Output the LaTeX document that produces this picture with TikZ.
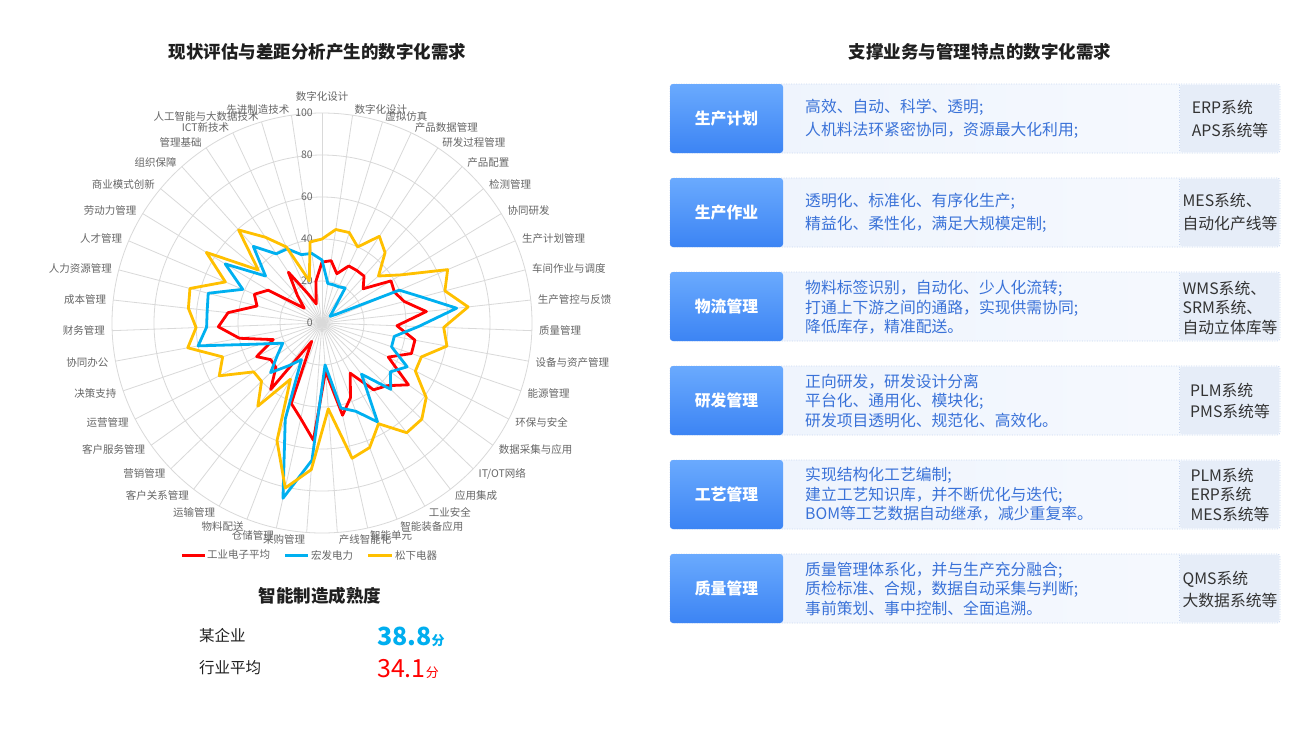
\documentclass[tikz,border=0pt]{standalone}
\usepackage{fontspec}
\setmainfont{Noto Sans CJK SC}
\definecolor{cred}{HTML}{FF0000}
\definecolor{cblue}{HTML}{00B0F0}
\definecolor{cyel}{HTML}{FFC000}
\definecolor{gridc}{HTML}{D9D9D9}
\definecolor{axg}{HTML}{666666}
\definecolor{descblue}{HTML}{3A72D8}
\definecolor{tagtop}{HTML}{6AAAFE}
\definecolor{tagbot}{HTML}{3C84F4}
\definecolor{rowL}{HTML}{EDF3FD}
\definecolor{rowR}{HTML}{F7FAFE}
\definecolor{rowline}{HTML}{C9D8F2}
\definecolor{sysfill}{HTML}{E6EDF8}
\definecolor{systext}{HTML}{333333}
\definecolor{statblue}{HTML}{00AEEF}
\tikzset{
  gridline/.style={draw=gridc, line width=0.8pt},
  axlbl/.style={font=\fontsize{10.5}{12}\selectfont, text=axg, inner sep=1pt},
  vallbl/.style={font=\fontsize{10.5}{12}\selectfont, text=axg, inner sep=1pt, anchor=east},
  serline/.style={line width=2.8pt, line join=round},
  legline/.style={line width=3pt},
  legtxt/.style={font=\fontsize{10.5}{12}\selectfont, text=axg, anchor=west, inner sep=1pt},
  ptitle/.style={font=\bfseries\fontsize{17.5}{20}\selectfont, text=black!88},
  rowbox/.style={rectangle, minimum width=610pt, minimum height=69pt, inner sep=0pt,
    rounded corners=3pt, left color=rowL, right color=rowR, draw=rowline,
    dash pattern=on 1pt off 1.5pt, line width=0.8pt},
  sysbox/.style={rectangle, minimum width=99pt, minimum height=67pt, inner sep=0pt,
    rounded corners=2pt, fill=sysfill},
  sysdot/.style={draw=rowline, dash pattern=on 1pt off 1.5pt, line width=0.8pt},
  tagbox/.style={rectangle, minimum width=113pt, minimum height=69pt, inner sep=0pt,
    rounded corners=3pt, top color=tagtop, bottom color=tagbot, text=white,
    font=\bfseries\fontsize{15.8}{18}\selectfont},
  desc/.style={anchor=west, align=left, inner sep=0pt, text=descblue,
    font=\fontsize{15.8}{#1}\selectfont},
  sys/.style={align=left, inner sep=0pt, text=systext,
    font=\fontsize{15.8}{#1}\selectfont},
  stattxt/.style={anchor=west, inner sep=0pt, text=black!88,
    font=\fontsize{15.5}{18}\selectfont},
}
\newcommand\rowframe[3]{%
  \node[rowbox] (row#1) at (975,#2) {};
  \node[sysbox] (sysbg#1) at (1229.5,#2) {};
  \draw[sysdot] (sysbg#1.north west) -- (sysbg#1.south west);
  \node[tagbox] (tag#1) at (726.5,#2) {#3};
}
\newcommand\radarseries[3]{%
  \foreach \v [count=\j from 0] in {#3} {
    \pgfmathsetmacro\ang{\j*360/43}
    \coordinate (#1\j) at ({322+2.1*\v*sin(\ang)},{323-2.1*\v*cos(\ang)});
  }
  \draw[serline, #2] (#10) \foreach \j in {1,...,42}{ -- (#1\j)} -- cycle;
}
\begin{document}
\begin{tikzpicture}[x=1pt,y=-1pt]
\useasboundingbox[fill=white] (0,0) rectangle (1300,750);

% ---------- titles ----------
\node[ptitle] (tl) at (317.5,52) {现状评估与差距分析产生的数字化需求};
\node[ptitle] (tr) at (980,52) {支撑业务与管理特点的数字化需求};

% ---------- radar grid ----------
\coordinate (C) at (322,323);
\foreach \k in {1,...,5} {
  \pgfmathsetmacro\rr{42*\k}
  \draw[gridline] (C) circle[radius=\rr pt];
}
\foreach \k in {0,...,42} {
  \pgfmathsetmacro\ang{\k*360/43}
  \draw[gridline] (C) -- ({322+210*sin(\ang)},{323-210*cos(\ang)});
}
\foreach \v in {0,20,40,60,80,100} {
  \node[vallbl] (val\v) at (314,{323-2.1*\v}) {\v};
}

% ---------- axis labels ----------
\node[axlbl] (ax0) at (322,96) {数字化设计};
\foreach \t [count=\k from 1] in {数字化设计,虚拟仿真,产品数据管理,研发过程管理,产品配置,检测管理,协同研发,生产计划管理,车间作业与调度,生产管控与反馈,质量管理,设备与资产管理,能源管理,环保与安全,数据采集与应用,IT/OT网络,应用集成,工业安全,智能装备应用,智能单元,产线智能化,采购管理,仓储管理,物料配送,运输管理,客户关系管理,营销管理,客户服务管理,运营管理,决策支持,协同办公,财务管理,成本管理,人力资源管理,人才管理,劳动力管理,商业模式创新,组织保障,管理基础,ICT新技术,人工智能与大数据技术,先进制造技术} {
  \pgfmathsetmacro\ang{\k*360/43}
  \ifnum\k<22 \def\anc{west}\else\def\anc{east}\fi
  \node[axlbl, anchor=\anc] (ax\k) at ({322+216*sin(\ang)},{323-216*cos(\ang)+1.5*max(0,-cos(\ang))}) {\t};
}

% ---------- series ----------
\radarseries{r}{cred}{29,30,24.5,30,30,30,25.5,38.5,37.5,40.5,50,35.7,45,45,35.5,50.6,43,40.2,27.4,38,45,23,56,46.6,41,10,40,30.5,30,35,24.5,40,49.4,45,32,35,30,11,17.5,29,15,9.5,20}
\radarseries{b}{cblue}{30,19,19,19,20,8,5,8,40,49,64.5,46,35,35,45.6,40,45.5,30.8,54,45,41.5,20,65.5,85.5,49,20,25.6,34,26,21,31,60,55,55,56,41,54,35,49,39.5,39,34,33.5}
\radarseries{y}{cyel}{40,45,45,40,49.5,45,35,44,65,60.5,70,58,60.5,50,50,61,66,66,55,63.5,66,41,70,80.5,60,30.7,50,40,40,55,50,65,60,64,65,50,64.5,39.5,59.5,49,40,21,39}

% ---------- legend ----------
\coordinate (lr1) at (182,555); \coordinate (lr2) at (205,555);
\coordinate (lb1) at (285,555); \coordinate (lb2) at (308,555);
\coordinate (ly1) at (368,555); \coordinate (ly2) at (392,555);
\draw[legline, cred] (lr1) -- (lr2);
\draw[legline, cblue] (lb1) -- (lb2);
\draw[legline, cyel] (ly1) -- (ly2);
\node[legtxt] (lgr) at (206,555) {工业电子平均};
\node[legtxt] (lgb) at (310,555) {宏发电力};
\node[legtxt] (lgy) at (394,555) {松下电器};

% ---------- maturity ----------
\node[ptitle] (mt) at (320,596) {智能制造成熟度};
\node[stattxt] (s1) at (199,636) {某企业};
\node[stattxt] (s2) at (199,668) {行业平均};
\node[anchor=base west, inner sep=0pt, text=statblue] (s1v) at (377,645)
  {\bfseries\fontsize{25}{28}\selectfont 38.8\fontsize{13}{15}\selectfont 分};
\node[anchor=base west, inner sep=0pt, text=cred] (s2v) at (377,677)
  {\fontsize{25}{28}\selectfont 34.1\fontsize{13}{15}\selectfont 分};

% ---------- right panel ----------
\rowframe{1}{118.5}{生产计划}
\rowframe{2}{212.5}{生产作业}
\rowframe{3}{306.5}{物流管理}
\rowframe{4}{400.5}{研发管理}
\rowframe{5}{494.5}{工艺管理}
\rowframe{6}{588.5}{质量管理}

\node[desc=23] (d1) at (805,118.5) {高效、自动、科学、透明;\\人机料法环紧密协同，资源最大化利用;};
\node[desc=23] (d2) at (805,212.5) {透明化、标准化、有序化生产;\\精益化、柔性化，满足大规模定制;};
\node[desc=19.5] (d3) at (805,307.5) {物料标签识别，自动化、少人化流转;\\打通上下游之间的通路，实现供需协同;\\降低库存，精准配送。};
\node[desc=19.5] (d4) at (805,400.5) {正向研发，研发设计分离\\平台化、通用化、模块化;\\研发项目透明化、规范化、高效化。};
\node[desc=19.5] (d5) at (805,494.5) {实现结构化工艺编制;\\建立工艺知识库，并不断优化与迭代;\\BOM等工艺数据自动继承，减少重复率。};
\node[desc=19.5] (d6) at (805,588.5) {质量管理体系化，并与生产充分融合;\\质检标准、合规，数据自动采集与判断;\\事前策划、事中控制、全面追溯。};

\node[sys=23] (y1) at (1230,118.5) {ERP系统\\APS系统等};
\node[sys=23] (y2) at (1230,212.5) {MES系统、\\自动化产线等};
\node[sys=19.5] (y3) at (1230,307.5) {WMS系统、\\SRM系统、\\自动立体库等};
\node[sys=21] (y4) at (1230,400.5) {PLM系统\\PMS系统等};
\node[sys=19.5] (y5) at (1230,494.5) {PLM系统\\ERP系统\\MES系统等};
\node[sys=22] (y6) at (1230,589) {QMS系统\\大数据系统等};
\end{tikzpicture}
\end{document}
